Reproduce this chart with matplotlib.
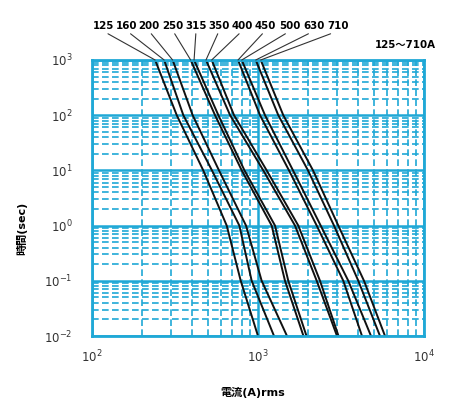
import matplotlib
matplotlib.use('Agg')
import matplotlib.pyplot as plt
from matplotlib.ticker import LogLocator, NullFormatter

plt.rcParams['font.family'] = ['DejaVu Sans', 'Noto Sans CJK JP']

# time levels (sec) where the curves were read
times = [1000, 100, 10, 1, 0.1, 0.01]

# fuse ratings and their melting currents (A) at each time level
ratings = ['125', '160', '200', '250', '315', '350', '400', '450', '500', '630', '710']
i125 = [240, 324, 468, 648, 787, 1000]
i160 = [272, 355, 528, 772, 916, 1249]
i200 = [306, 404, 582, 847, 1052, 1495]
i250 = [393, 551, 798, 1209, 1454, 1879]
i315 = [412, 577, 829, 1266, 1522, 1960]
i350 = [486, 679, 1076, 1671, 2258, 2992]
i400 = [526, 717, 1128, 1749, 2363, 3055]
i450 = [758, 1028, 1537, 2258, 3265, 4232]
i500 = [798, 1102, 1625, 2386, 3499, 4794]
i630 = [969, 1325, 2001, 2870, 4020, 5432]
i710 = [1038, 1420, 2145, 3046, 4351, 5823]
currents = [i125, i160, i200, i250, i315, i350, i400, i450, i500, i630, i710]

# label positions along the top (figure pixels)
label_x = [103, 127, 149, 173, 196, 219, 242, 265, 290, 314, 338]

grid_c = '#1fa8d6'

fig = plt.figure(figsize=(4.49, 4.08), dpi=100)
ax = fig.add_axes([92 / 449, 1 - 336 / 408, 332 / 449, 276 / 408])
ax.set_xscale('log')
ax.set_yscale('log')
ax.set_xlim(1e2, 1e4)
ax.set_ylim(1e-2, 1e3)

ax.xaxis.set_minor_locator(LogLocator(base=10, subs=range(2, 10)))
ax.yaxis.set_minor_locator(LogLocator(base=10, subs=range(2, 10)))
ax.xaxis.set_minor_formatter(NullFormatter())
ax.yaxis.set_minor_formatter(NullFormatter())
ax.grid(which='major', color=grid_c, lw=1.8, ls='-')
ax.grid(which='minor', color=grid_c, lw=1.2, ls=(0, (4, 2)))
ax.set_axisbelow(True)
for s in ax.spines.values():
    s.set_color(grid_c)
    s.set_linewidth(2)

ax.tick_params(which='both', length=0)
ax.tick_params(axis='x', pad=9, labelsize=8.5, labelcolor='#333333')
ax.tick_params(axis='y', pad=14, labelsize=8.5, labelcolor='#333333')

for name, cur, lx in zip(ratings, currents, label_x):
    ax.plot(cur, times, color='#111111', lw=1.4)
    ax.annotate(name, xy=(cur[0], times[0]), xycoords='data',
                xytext=(lx, 382), textcoords='figure pixels',
                ha='center', va='center', fontsize=7.4, fontweight='bold',
                annotation_clip=False,
                arrowprops=dict(arrowstyle='-', color='#333333', lw=0.8,
                                shrinkA=0, shrinkB=0, relpos=(0.5, 0)))

fig.text(405 / 449, 1 - 45 / 408, '125～710A', ha='center', va='center',
         fontsize=7.4, fontweight='bold')

fig.text(253 / 449, 1 - 392 / 408, '電流(A)rms', ha='center', va='center',
         fontsize=8, fontweight='bold')
fig.text(22 / 449, 1 - 228 / 408, '時間(sec)', ha='center', va='center',
         rotation=90, fontsize=8, fontweight='bold')

fig.savefig('out.png', dpi=100)
